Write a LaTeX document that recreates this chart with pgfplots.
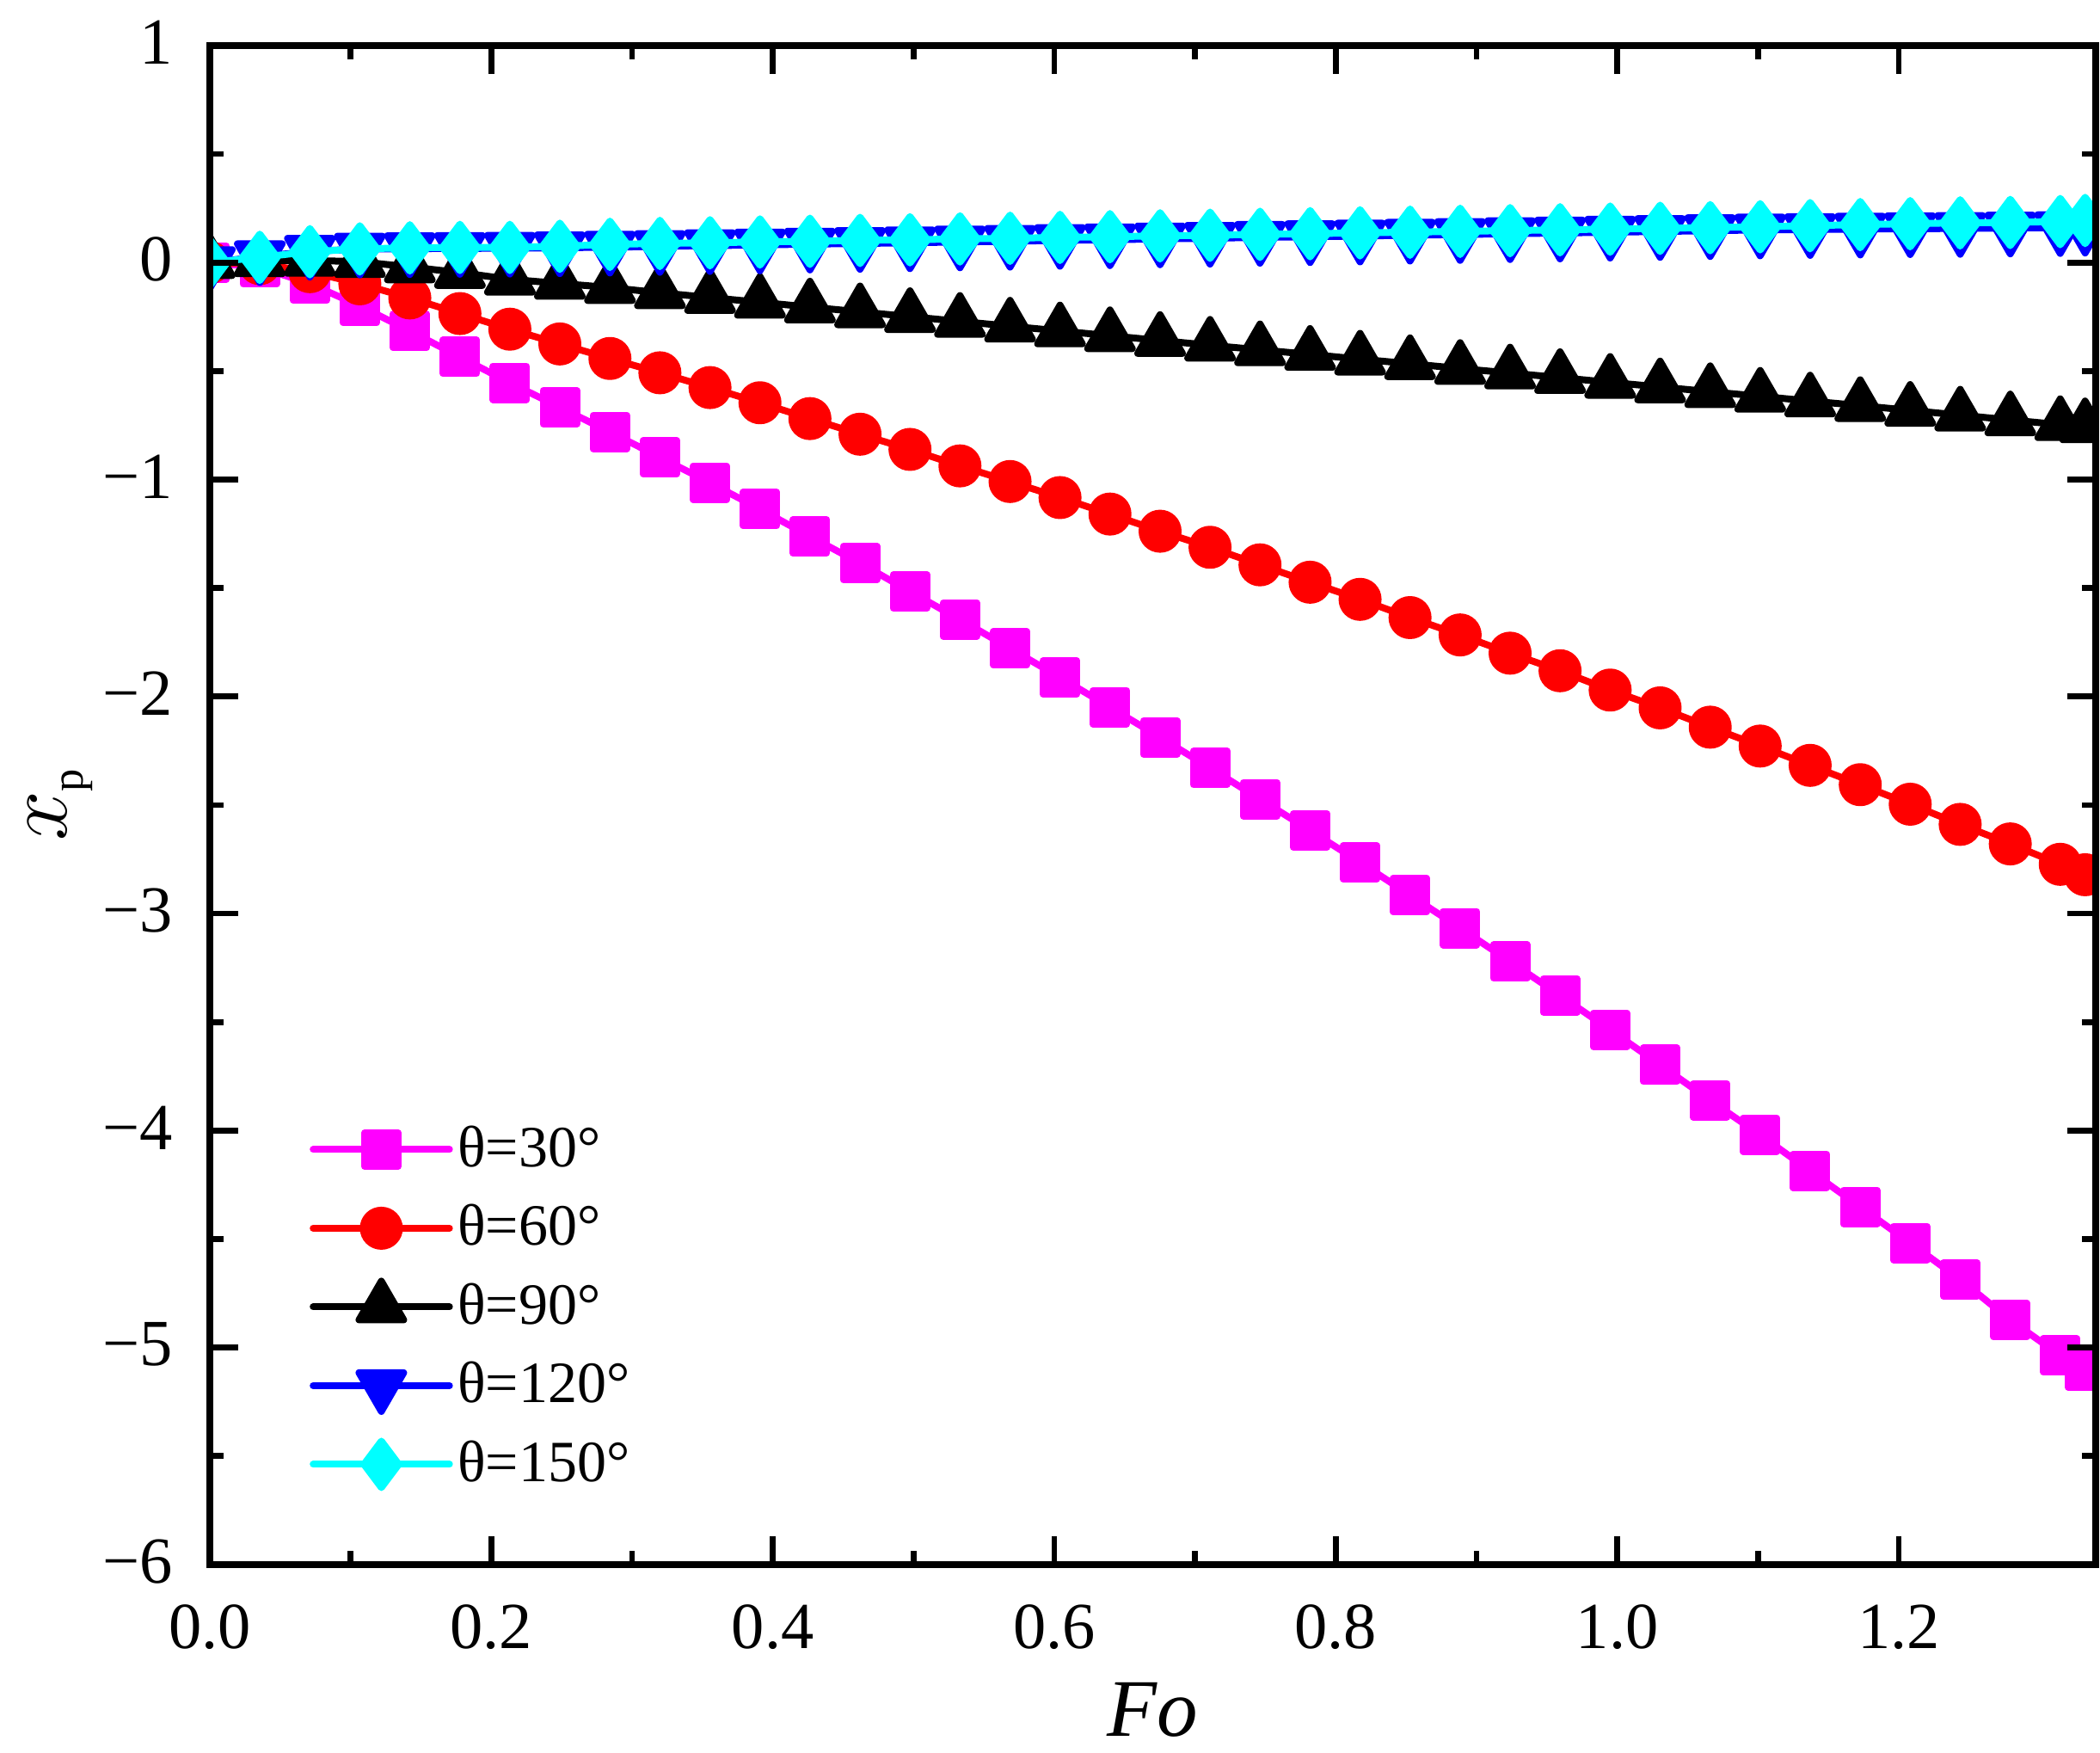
\documentclass[border=0pt]{standalone}
\usepackage{fontspec}
\setmainfont{Liberation Serif}
\usepackage{pgfplots}
\usepackage{pgfplotstable}
\pgfplotsset{compat=1.18}
\definecolor{cmag}{RGB}{255,0,255}
\definecolor{cred}{RGB}{255,0,0}
\definecolor{cblu}{RGB}{0,0,255}
\definecolor{ccya}{RGB}{0,255,255}

\pgfplotstableread{
Fo a30 a60 a90 a120 a150
0 0 0 0 0 0
0.0355 -0.022 -0.005 0.008 0.027 0.024
0.0711 -0.097 -0.042 0.010 0.052 0.050
0.1066 -0.200 -0.098 0.004 0.062 0.063
0.1421 -0.315 -0.163 -0.020 0.064 0.068
0.1777 -0.435 -0.235 -0.046 0.065 0.070
0.2132 -0.554 -0.307 -0.077 0.066 0.070
0.2487 -0.667 -0.375 -0.096 0.068 0.075
0.2843 -0.781 -0.442 -0.115 0.071 0.084
0.3198 -0.897 -0.508 -0.139 0.074 0.088
0.3554 -1.015 -0.576 -0.161 0.078 0.091
0.3909 -1.136 -0.646 -0.183 0.081 0.095
0.4264 -1.262 -0.719 -0.205 0.085 0.098
0.4620 -1.385 -0.791 -0.227 0.088 0.102
0.4975 -1.516 -0.861 -0.249 0.091 0.105
0.5330 -1.645 -0.937 -0.271 0.095 0.109
0.5686 -1.778 -1.009 -0.293 0.098 0.112
0.6041 -1.912 -1.083 -0.315 0.102 0.116
0.6396 -2.049 -1.159 -0.337 0.105 0.119
0.6752 -2.188 -1.238 -0.359 0.109 0.123
0.7107 -2.329 -1.312 -0.381 0.112 0.126
0.7462 -2.473 -1.393 -0.402 0.116 0.130
0.7818 -2.617 -1.473 -0.423 0.119 0.133
0.8173 -2.764 -1.552 -0.445 0.122 0.137
0.8528 -2.915 -1.636 -0.466 0.126 0.140
0.8884 -3.067 -1.716 -0.488 0.129 0.144
0.9239 -3.221 -1.800 -0.509 0.133 0.147
0.9594 -3.377 -1.881 -0.530 0.136 0.151
0.9950 -3.536 -1.970 -0.552 0.140 0.154
1.0305 -3.697 -2.052 -0.573 0.143 0.158
1.0661 -3.861 -2.141 -0.595 0.147 0.161
1.1016 -4.020 -2.228 -0.616 0.150 0.165
1.1371 -4.186 -2.317 -0.638 0.152 0.170
1.1727 -4.352 -2.406 -0.659 0.154 0.175
1.2082 -4.518 -2.496 -0.681 0.156 0.179
1.2437 -4.686 -2.589 -0.703 0.157 0.183
1.2793 -4.873 -2.679 -0.725 0.159 0.185
1.3148 -5.036 -2.773 -0.747 0.161 0.189
1.3325 -5.105 -2.821 -0.757 0.163 0.194
}\data

\begin{document}
\begin{tikzpicture}
\begin{axis}[
  scale only axis, width=438.6pt, height=353.2pt,
  xmin=0, xmax=1.34, ymin=-6, ymax=1,
  xtick={0,0.2,0.4,0.6,0.8,1.0,1.2},
  xticklabels={0.0,0.2,0.4,0.6,0.8,1.0,1.2},
  ytick={-6,-5,-4,-3,-2,-1,0,1},
  yticklabels={−6,−5,−4,−3,−2,−1,0,1},
  minor x tick num=1, minor y tick num=1,
  major tick length=6.6pt, minor tick length=3.2pt,
  tick style={line width=1.35pt, black},
  axis line style={line width=1.5pt},
  axis on top, clip marker paths=true,
  tick label style={font=\fontsize{15.3}{16}\selectfont},
  xticklabel style={anchor=north, inner sep=0pt, yshift=-9.2pt},
  yticklabel style={anchor=east, inner sep=0pt, xshift=-8.4pt, yshift=0.7pt},
  xlabel={\fontsize{19}{20}\selectfont\textit{Fo}},
  xlabel style={at={(axis description cs:0.5,-0.077)}, anchor=north, inner sep=0pt},
  ylabel={\fontsize{19.5}{20}\selectfont$x$\raisebox{-3.8pt}{\fontsize{10.5}{10.5}\selectfont p}},
  ylabel style={at={(axis description cs:-0.0615,0.5)}, anchor=south, inner sep=0pt},
  legend cell align=left,
  legend style={draw=none, fill=none, at={(axis cs:0.071,-3.906)}, anchor=north west,
    inner sep=0pt, outer sep=0pt, column sep=1.1pt, row sep=0pt,
    font=\fontsize{13.6}{13.6}\selectfont, nodes={inner sep=0pt}},
  legend image code/.code={
    \path[draw=none, fill=none] (0pt,-9.15pt) rectangle (31.7pt,9.15pt);
    \draw[mark repeat=2, mark phase=2, #1] plot coordinates {(0pt,0pt) (15.85pt,0pt) (31.7pt,0pt)};
  },
  every axis plot/.append style={line width=1.6pt, line cap=round, line join=round},
]
\addplot[color=cmag, mark=square*, mark size=3.9pt, mark options={draw=none}] table[x=Fo, y=a30] {\data};
\addlegendentry{θ=30°}
\addplot[color=cred, mark=*, mark size=4.2pt, mark options={draw=none}] table[x=Fo, y=a60] {\data};
\addlegendentry{θ=60°}
\addplot[color=black, mark=triangle*, mark size=6pt, mark options={draw=none}] table[x=Fo, y=a90] {\data};
\addlegendentry{θ=90°}
\addplot[color=cblu, mark=triangle*, mark size=6pt, mark options={draw=none, rotate=180}] table[x=Fo, y=a120] {\data};
\addlegendentry{θ=120°}
\addplot[color=ccya, mark=diamond*, mark size=5.4pt, mark options={draw=none}] table[x=Fo, y=a150] {\data};
\addlegendentry{θ=150°}
\end{axis}
\pgfresetboundingbox
\useasboundingbox ([shift={(-48.8pt,-43.8pt)}]current axis.south west) rectangle ([shift={(1pt,10.6pt)}]current axis.north east);
\end{tikzpicture}
\end{document}
